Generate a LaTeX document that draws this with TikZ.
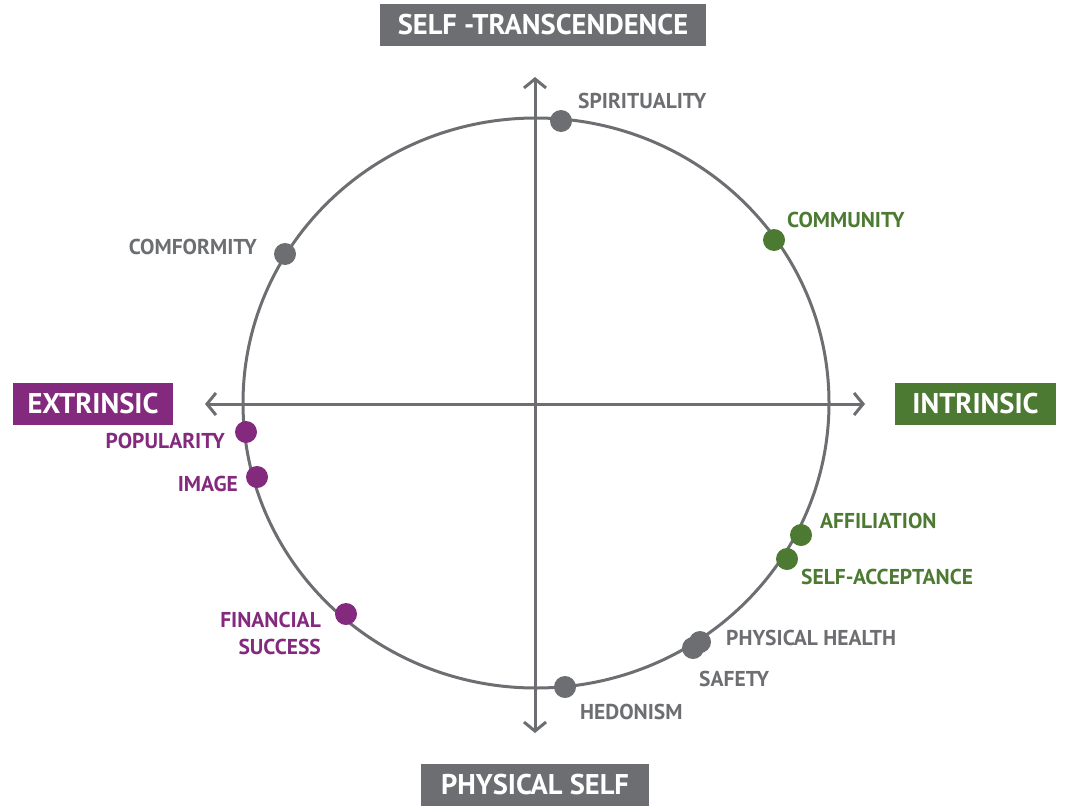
\documentclass[tikz,border=0pt]{standalone}
\usepackage{fontspec}
\setmainfont{PT Sans}
\usepackage{tikz}
\usetikzlibrary{arrows.meta,positioning}
\definecolor{axisgray}{HTML}{6D6E71}
\definecolor{valpurple}{HTML}{842A7E}
\definecolor{valgreen}{HTML}{4D7A32}

\begin{document}
\begin{tikzpicture}[x=1pt,y=-1pt,
        title/.style={fill=axisgray,text=white,font=\fontsize{28.5}{28}\selectfont\bfseries,
                      minimum height=42pt,inner sep=0pt},
        lbl/.style={font=\fontsize{21.5}{27}\selectfont\bfseries,inner sep=0pt},
        dot/.style={circle,fill=#1,minimum size=22pt,inner sep=0pt},
        axis/.style={draw=axisgray,line width=3pt,{Straight Barb[length=9pt,width=22pt]}-{Straight Barb[length=9pt,width=22pt]}}]
      \useasboundingbox (0,0) rectangle (1078,808);
      % axes and circle
      \draw[axisgray,line width=3pt] (536,403) ellipse [x radius=293,y radius=285];
      \coordinate (up) at (535,77);
      \coordinate (down) at (535,733);
      \coordinate (left) at (205,404);
      \coordinate (right) at (865,404);
      \draw[axis] (down) -- (up);
      \draw[axis] (left) -- (right);
      % poles
      \node[title,minimum width=326pt] (trans) at (543,25) {SELF -TRANSCENDENCE};
      \node[title,minimum width=228pt] (phys) at (535,785) {PHYSICAL SELF};
      \node[title,fill=valpurple,minimum width=160pt] (extr) at (93,403.5) {EXTRINSIC};
      \node[title,fill=valgreen,minimum width=161pt] (intr) at (975.5,403.5) {INTRINSIC};
      % gray goals
      \node[dot=axisgray] (spirit) at (561,121) {};
      \node[lbl,text=axisgray,anchor=west] at (578,101) {SPIRITUALITY};
      \node[dot=axisgray] (conf) at (285,254) {};
      \node[lbl,text=axisgray,anchor=east] at (257,247) {COMFORMITY};
      \node[dot=axisgray] (safe) at (693,648) {};
      \node[dot=axisgray] (health) at (700,642) {};
      \node[lbl,text=axisgray,anchor=west] at (726,638) {PHYSICAL HEALTH};
      \node[lbl,text=axisgray,anchor=west] at (699,679) {SAFETY};
      \node[dot=axisgray] (hedon) at (565,687) {};
      \node[lbl,text=axisgray,anchor=west] at (580,712) {HEDONISM};
      % green goals
      \node[dot=valgreen] (comm) at (774,240) {};
      \node[lbl,text=valgreen,anchor=west] at (787,220) {COMMUNITY};
      \node[dot=valgreen] (affil) at (801,535) {};
      \node[lbl,text=valgreen,anchor=west] at (820,521) {AFFILIATION};
      \node[dot=valgreen] (accept) at (787,559) {};
      \node[lbl,text=valgreen,anchor=west] at (801,577) {SELF-ACCEPTANCE};
      % purple goals
      \node[dot=valpurple] (popul) at (246,432) {};
      \node[lbl,text=valpurple,anchor=east] at (225,441) {POPULARITY};
      \node[dot=valpurple] (image) at (257,477) {};
      \node[lbl,text=valpurple,anchor=east] at (238,484) {IMAGE};
      \node[dot=valpurple] (money) at (346,614) {};
      \node[lbl,text=valpurple,anchor=east,align=right] at (321,633.5) {FINANCIAL\\SUCCESS};
    \end{tikzpicture}
\end{document}
